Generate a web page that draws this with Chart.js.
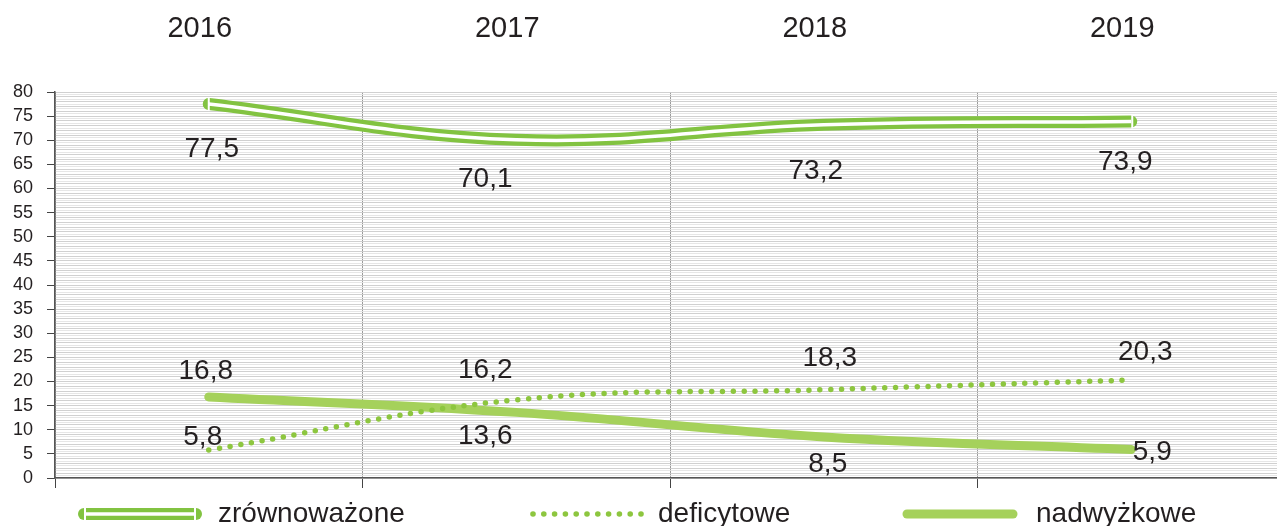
<!DOCTYPE html>
<html>
<head>
<meta charset="utf-8">
<script src="https://cdn.jsdelivr.net/npm/chart.js@4/dist/chart.umd.min.js"></script>
<style>
  html, body { margin: 0; padding: 0; background: #fff; overflow: hidden; }
  #wrap { width: 1290px; height: 526px; }
</style>
</head>
<body>
<div id="wrap"><canvas id="chart" width="1290" height="526"></canvas></div>
<script>
// chart data
const years = ['2016', '2017', '2018', '2019'];
const zrownowazone = [77.5, 70.1, 73.2, 73.9];
const deficytowe = [5.8, 16.2, 18.3, 20.3];
const nadwyzkowe = [16.8, 13.6, 8.5, 5.9];
const seriesNames = ['zrównoważone', 'deficytowe', 'nadwyżkowe'];

const GREEN_DARK = '#82c341';
const GREEN_DOT = '#8dc63f';
const GREEN_LIGHT = '#a5d15b';
const TEXT = '#231f20';
const FONT = '"Liberation Sans", Arial, sans-serif';

const fmt = v => String(v).replace('.', ',');

// label offsets from each point (dx, dy), per series
const labelOffsets = [
    [[3, 45], [-31, 40], [-8, 46], [-6, 41]],
    [[-6, -13], [-31, -30], [6, -31], [14, -28]],
    [[-3, -26], [-31, 24], [4, 27], [21, 3]]
];

const overlayPlugin = {
    id: 'overlay',
    afterDatasetsDraw(chart) {
        const ctx = chart.ctx;
        const xs = chart.scales.x;
        const ys = chart.scales.y;
        ctx.save();

        // white slit at the ends of the double line
        ctx.strokeStyle = '#fff';
        ctx.lineWidth = 2;
        [0, zrownowazone.length - 1].forEach(i => {
            const px = xs.getPixelForValue(i) + (i === 0 ? 0 : 1);
            const py = ys.getPixelForValue(zrownowazone[i]);
            ctx.beginPath(); ctx.moveTo(px, py - 7); ctx.lineTo(px, py + 7); ctx.stroke();
        });

        ctx.fillStyle = TEXT;
        ctx.textAlign = 'center';
        ctx.textBaseline = 'middle';

        // year labels on top
        ctx.font = '29px ' + FONT;
        years.forEach((y, i) => {
            ctx.fillText(y, xs.getPixelForValue(i) - 9, 29);
        });

        // value labels
        ctx.font = '28px ' + FONT;
        [zrownowazone, deficytowe, nadwyzkowe].forEach((arr, s) => {
            arr.forEach((v, i) => {
                const off = labelOffsets[s][i];
                ctx.fillText(fmt(v), xs.getPixelForValue(i) + off[0], ys.getPixelForValue(v) + off[1]);
            });
        });

        // legend
        const ly = 514;
        ctx.textAlign = 'left';
        ctx.lineCap = 'round';
        ctx.strokeStyle = GREEN_DARK;
        ctx.lineWidth = 12;
        ctx.beginPath(); ctx.moveTo(84, ly); ctx.lineTo(196, ly); ctx.stroke();
        ctx.lineCap = 'butt';
        ctx.strokeStyle = '#fff';
        ctx.lineWidth = 3.5;
        ctx.beginPath(); ctx.moveTo(84, ly); ctx.lineTo(196, ly); ctx.stroke();
        ctx.lineWidth = 2;
        [85, 195].forEach(x => { ctx.beginPath(); ctx.moveTo(x, ly - 7); ctx.lineTo(x, ly + 7); ctx.stroke(); });
        ctx.fillStyle = TEXT;
        ctx.fillText(seriesNames[0], 218, ly);

        ctx.fillStyle = GREEN_DOT;
        for (let x = 533; x <= 641; x += 10.8) {
            ctx.beginPath(); ctx.arc(x, ly, 2.8, 0, Math.PI * 2); ctx.fill();
        }
        ctx.fillStyle = TEXT;
        ctx.fillText(seriesNames[1], 658, ly);

        ctx.lineCap = 'round';
        ctx.strokeStyle = GREEN_LIGHT;
        ctx.lineWidth = 9;
        ctx.beginPath(); ctx.moveTo(907, ly); ctx.lineTo(1013, ly); ctx.stroke();
        ctx.fillText(seriesNames[2], 1036, ly);
        ctx.restore();
    }
};

// first dataset is drawn on top
new Chart(document.getElementById('chart'), {
    type: 'line',
    data: {
        labels: years,
        datasets: [
            {
                label: seriesNames[0] + ' inner',
                data: zrownowazone,
                borderColor: '#ffffff',
                borderWidth: 3.5,
                borderCapStyle: 'butt',
                tension: 0.4,
                pointRadius: 0
            },
            {
                label: seriesNames[0],
                data: zrownowazone,
                borderColor: GREEN_DARK,
                borderWidth: 12,
                borderCapStyle: 'round',
                tension: 0.4,
                pointRadius: 0
            },
            {
                label: seriesNames[1],
                data: deficytowe,
                borderColor: GREEN_DOT,
                borderWidth: 5.5,
                borderDash: [0, 10.8],
                borderCapStyle: 'round',
                tension: 0.4,
                pointRadius: 0
            },
            {
                label: seriesNames[2],
                data: nadwyzkowe,
                borderColor: GREEN_LIGHT,
                borderWidth: 9,
                borderCapStyle: 'round',
                tension: 0.4,
                pointRadius: 0
            }
        ]
    },
    options: {
        responsive: false,
        animation: false,
        layout: { padding: { top: 92, bottom: 38, left: 0, right: 5 } },
        plugins: {
            legend: { display: false },
            tooltip: { enabled: false }
        },
        scales: {
            x: {
                type: 'category',
                offset: true,
                afterFit: s => { s.height = 10; },
                grid: {
                    offset: true,
                    color: '#9a9a9a',
                    lineWidth: 1,
                    drawTicks: true,
                    tickLength: 10,
                    tickColor: '#444'
                },
                border: { color: '#555', width: 1.5 },
                ticks: { display: false }
            },
            y: {
                min: 0,
                max: 80,
                afterFit: s => { s.width = 55; },
                ticks: {
                    stepSize: 0.5,
                    autoSkip: false,
                    padding: 14,
                    color: TEXT,
                    font: { family: FONT, size: 18 },
                    callback: v => (v % 5 === 0 ? v : '')
                },
                grid: {
                    tickLength: 8,
                    color: ctx => (ctx.tick && ctx.tick.value % 1 === 0 ? '#d0d0d0' : '#e6e6e6'),
                    tickColor: ctx => (ctx.tick && ctx.tick.value % 5 === 0 ? '#444' : 'rgba(0,0,0,0)')
                },
                border: { color: '#555', width: 1.5 }
            }
        }
    },
    plugins: [overlayPlugin]
});
</script>
</body>
</html>
